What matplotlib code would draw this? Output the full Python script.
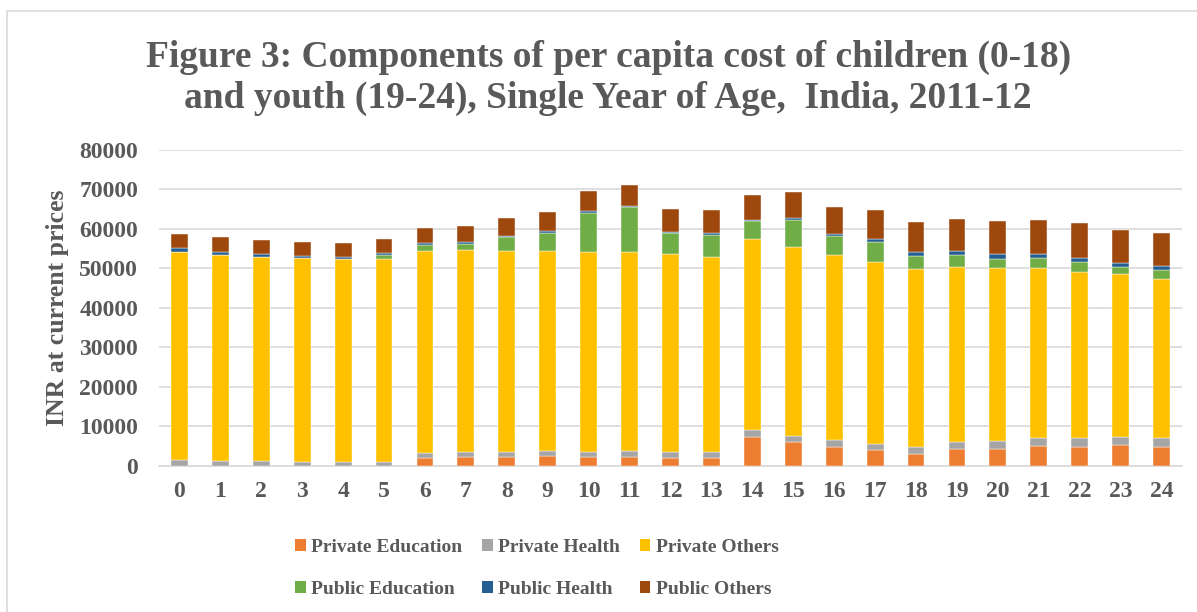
import numpy as np
from matplotlib import pyplot as plt
from matplotlib.patches import Patch
from matplotlib.lines import Line2D

ages = [str(a) for a in range(25)]

priv_edu = [0, 0, 0, 0, 0, 0, 2130, 2380, 2380, 2460, 2280, 2380, 2130,
            2030, 7340, 6080, 4810, 3970, 3040, 4300, 4410, 5160, 4910, 5240, 4910]
priv_health = [1500, 1270, 1180, 1090, 1090, 1090, 1270, 1160, 1270, 1270, 1270, 1420, 1420,
               1520, 1700, 1520, 1870, 1700, 1770, 1770, 2030, 2030, 2100, 2100, 2100]
priv_others = [52580, 52250, 51800, 51570, 51320, 51240, 50960, 51060, 50890, 50810, 50730, 50380, 50050,
               49370, 48530, 47770, 46660, 45900, 44990, 44410, 43620, 42940, 42100, 41270, 40250]
pub_edu = [0, 0, 0, 0, 0, 1160, 1600, 1600, 3370, 4460, 9770, 11320, 5320,
           5570, 4380, 6910, 4810, 5140, 3470, 2940, 2460, 2460, 2460, 1700, 2350]
pub_health = [1100, 760, 600, 580, 430, 500, 430, 510, 430, 430, 430, 430, 330,
              430, 430, 610, 680, 680, 840, 1110, 1160, 1190, 1190, 1190, 1110]
pub_others = [3540, 3620, 3620, 3470, 3620, 3540, 3970, 4050, 4560, 4890, 5240, 5320, 5820,
              6000, 6150, 6410, 6730, 7340, 7590, 8000, 8280, 8610, 8680, 8350, 8180]

series = [
    ("Private Education", priv_edu, "#ED7D31"),
    ("Private Health", priv_health, "#A5A5A5"),
    ("Private Others", priv_others, "#FFC000"),
    ("Public Education", pub_edu, "#70AD47"),
    ("Public Health", pub_health, "#255E91"),
    ("Public Others", pub_others, "#9E480E"),
]

txt = "#595959"
plt.rcParams['font.family'] = ['Liberation Serif', 'DejaVu Serif']
plt.rcParams['font.weight'] = 'bold'

fig = plt.figure(figsize=(11.97, 6.12), dpi=100)
ax = fig.add_axes([0.1328, 0.2386, 0.8547, 0.5163])

x = np.arange(len(ages))
bottom = np.zeros(len(ages))
for name, vals, col in series:
    vals = np.array(vals, dtype=float)
    ax.bar(x, vals, width=0.41, bottom=bottom, color=col, label=name,
           edgecolor='white', linewidth=0.3, zorder=3)
    bottom += vals

ax.set_xlim(-0.5, len(ages) - 0.5)
ax.set_ylim(0, 80000)
ax.set_yticks(np.arange(0, 80001, 10000))
ax.set_xticks(x)
ax.set_xticklabels(ages)
ax.grid(axis='y', color='#D9D9D9', linewidth=1.2, zorder=0)
for s in ['top', 'right', 'left']:
    ax.spines[s].set_visible(False)
ax.spines['bottom'].set_color('#D9D9D9')
ax.spines['bottom'].set_linewidth(1.2)
ax.tick_params(axis='both', length=0, colors=txt, labelsize=17)
ax.tick_params(axis='y', pad=15)
ax.tick_params(axis='x', pad=11)

ax.set_ylabel("INR at current prices", fontsize=18.5, color=txt, fontweight='bold')
ax.yaxis.set_label_coords(-0.088, 0.5)

fig.text(0.508, 1 - 66.7 / 612, "Figure 3: Components of per capita cost of children (0-18)",
         ha='center', va='baseline', fontsize=27, color=txt, fontweight='bold')
fig.text(0.508, 1 - 108.3 / 612, "and youth (19-24), Single Year of Age,  India, 2011-12",
         ha='center', va='baseline', fontsize=27, color=txt, fontweight='bold')

# legend in two rows: private on top, public below
handles = [Patch(facecolor=c, edgecolor='none') for _, _, c in series]
labels = [n for n, _, _ in series]
order = [0, 3, 1, 4, 2, 5]
leg = fig.legend([handles[i] for i in order], [labels[i] for i in order],
                 ncol=3, loc='center', bbox_to_anchor=(537 / 1197, 1 - 568.5 / 612),
                 frameon=False, fontsize=14, handlelength=0.55, handleheight=0.55,
                 handletextpad=0.3, columnspacing=1.0, labelspacing=1.3,
                 borderpad=0, borderaxespad=0)
for t in leg.get_texts():
    t.set_color(txt)

# light chart-area border
fig.add_artist(Line2D([7 / 1197, 7 / 1197, 1.0], [0.0, 1 - 11 / 612, 1 - 11 / 612],
                      transform=fig.transFigure, color='#D9D9D9', linewidth=1.2))

plt.savefig("out.png", dpi=100)
